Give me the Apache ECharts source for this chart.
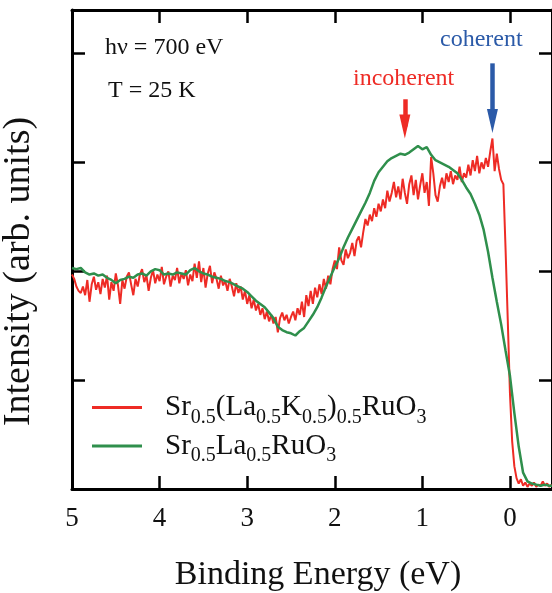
<!DOCTYPE html>
<html>
<head>
<meta charset="utf-8">
<script src="https://cdn.jsdelivr.net/npm/echarts@6/dist/echarts.min.js"></script>
<style>
  html, body { margin: 0; padding: 0; background: #fff; overflow: hidden; }
  #chart { width: 552px; height: 593px; }
</style>
</head>
<body>
<div id="chart"></div>
<script>
// binding energy (eV), intensity (arb. units)
const redData = [
  [5.000,1.97],[4.975,1.93],[4.950,1.86],[4.925,1.82],[4.900,1.80],[4.875,1.86],[4.850,1.78],[4.825,1.92],
  [4.800,1.72],[4.775,1.88],[4.750,1.95],[4.725,1.83],[4.700,1.90],[4.675,1.79],[4.650,1.93],[4.625,1.85],
  [4.600,1.96],[4.575,1.74],[4.550,1.90],[4.525,1.82],[4.500,1.98],[4.475,1.87],[4.450,1.70],[4.425,1.92],
  [4.400,1.84],[4.375,1.95],[4.350,1.99],[4.325,1.88],[4.300,1.78],[4.275,1.93],[4.250,1.86],[4.225,1.97],
  [4.200,2.02],[4.175,1.90],[4.150,1.96],[4.125,1.82],[4.100,1.94],[4.075,2.01],[4.050,1.89],[4.025,1.97],
  [4.000,1.91],[3.975,2.04],[3.950,1.88],[3.925,1.95],[3.900,2.00],[3.875,1.86],[3.850,1.96],[3.825,1.92],
  [3.800,2.03],[3.775,1.89],[3.750,1.98],[3.725,1.93],[3.700,2.01],[3.675,1.87],[3.650,1.97],[3.625,1.91],
  [3.600,2.07],[3.575,1.94],[3.550,2.09],[3.525,1.90],[3.500,2.03],[3.475,1.85],[3.450,1.98],[3.425,2.05],
  [3.400,1.89],[3.375,1.99],[3.350,1.93],[3.325,1.84],[3.300,1.96],[3.275,1.87],[3.250,1.91],[3.225,1.82],
  [3.200,1.93],[3.175,1.86],[3.150,1.77],[3.125,1.89],[3.100,1.80],[3.075,1.86],[3.050,1.74],[3.025,1.82],
  [3.000,1.70],[2.975,1.78],[2.950,1.66],[2.925,1.74],[2.900,1.64],[2.875,1.70],[2.850,1.60],[2.825,1.66],
  [2.800,1.56],[2.775,1.63],[2.750,1.54],[2.725,1.60],[2.700,1.52],[2.675,1.58],[2.650,1.44],[2.625,1.57],
  [2.600,1.62],[2.575,1.55],[2.550,1.60],[2.525,1.52],[2.500,1.58],[2.475,1.63],[2.450,1.55],[2.425,1.66],
  [2.400,1.60],[2.375,1.72],[2.350,1.58],[2.325,1.78],[2.300,1.68],[2.275,1.82],[2.250,1.70],[2.225,1.85],
  [2.200,1.76],[2.175,1.88],[2.150,1.79],[2.125,1.93],[2.100,1.84],[2.075,1.96],[2.050,1.88],[2.025,2.02],
  [2.000,2.10],[1.975,2.02],[1.950,2.22],[1.925,2.10],[1.900,2.06],[1.875,2.20],[1.850,2.12],[1.825,2.17],
  [1.800,2.26],[1.775,2.14],[1.750,2.28],[1.725,2.32],[1.700,2.22],[1.675,2.36],[1.650,2.48],[1.625,2.42],
  [1.600,2.52],[1.575,2.46],[1.550,2.58],[1.525,2.50],[1.500,2.62],[1.475,2.55],[1.450,2.66],[1.425,2.58],
  [1.400,2.74],[1.375,2.64],[1.350,2.72],[1.325,2.82],[1.300,2.68],[1.275,2.78],[1.250,2.66],[1.225,2.85],
  [1.200,2.72],[1.175,2.62],[1.150,2.80],[1.125,2.88],[1.100,2.70],[1.075,2.84],[1.050,2.66],[1.025,2.79],
  [1.000,2.90],[0.975,2.72],[0.950,2.82],[0.925,2.60],[0.900,3.05],[0.875,2.90],[0.850,2.70],[0.825,2.64],
  [0.800,2.78],[0.775,2.86],[0.750,2.76],[0.725,2.90],[0.700,2.82],[0.675,2.92],[0.650,2.80],[0.625,2.88],
  [0.600,2.84],[0.575,2.96],[0.550,2.82],[0.525,2.90],[0.500,2.86],[0.475,2.98],[0.450,2.88],[0.425,3.02],
  [0.400,2.92],[0.375,3.06],[0.350,2.90],[0.325,3.00],[0.300,2.94],[0.275,3.04],[0.250,2.96],[0.225,3.10],
  [0.200,3.22],[0.175,2.92],[0.150,3.08],[0.125,2.94],[0.100,2.84],[0.075,2.80],[0.050,2.20],[0.025,1.55],
  [0.000,0.88],[-0.025,0.44],[-0.050,0.21],[-0.075,0.10],[-0.100,0.05],[-0.125,0.09],[-0.150,0.03],[-0.175,0.06],
  [-0.200,0.02],[-0.225,0.05],[-0.250,0.03],[-0.275,0.06],[-0.300,0.02],[-0.325,0.04],[-0.350,0.03],[-0.375,0.07],
  [-0.400,0.03],[-0.425,0.05],[-0.450,0.02],[-0.475,0.04]
];

const greenData = [
  [5.00,2.03],[4.95,2.02],[4.90,2.03],[4.85,1.99],[4.80,1.97],[4.75,1.98],[4.70,1.96],[4.65,1.97],
  [4.60,1.94],[4.55,1.92],[4.50,1.89],[4.45,1.92],[4.40,1.93],[4.35,1.95],[4.30,1.94],[4.25,1.97],
  [4.20,1.98],[4.15,1.96],[4.10,2.00],[4.05,2.02],[4.00,2.01],[3.95,1.97],[3.90,1.98],[3.85,1.97],
  [3.80,1.99],[3.75,1.98],[3.70,1.97],[3.65,2.01],[3.60,2.03],[3.55,2.00],[3.50,1.98],[3.45,1.97],
  [3.40,1.95],[3.35,1.94],[3.30,1.93],[3.25,1.91],[3.20,1.90],[3.15,1.88],[3.10,1.86],[3.05,1.84],
  [3.00,1.81],[2.95,1.77],[2.90,1.73],[2.85,1.70],[2.80,1.67],[2.75,1.62],[2.70,1.57],[2.65,1.49],
  [2.60,1.46],[2.55,1.44],[2.50,1.43],[2.45,1.41],[2.40,1.45],[2.35,1.48],[2.30,1.54],[2.25,1.60],
  [2.20,1.67],[2.15,1.76],[2.10,1.86],[2.05,1.95],[2.00,2.04],[1.95,2.12],[1.90,2.22],[1.85,2.31],
  [1.80,2.39],[1.75,2.47],[1.70,2.55],[1.65,2.63],[1.60,2.72],[1.55,2.83],[1.50,2.91],[1.45,2.96],
  [1.40,3.01],[1.35,3.04],[1.30,3.06],[1.25,3.08],[1.20,3.07],[1.15,3.09],[1.10,3.12],[1.05,3.15],
  [1.00,3.12],[0.95,3.14],[0.90,3.07],[0.85,3.02],[0.80,3.00],[0.75,2.98],[0.70,2.96],[0.65,2.93],
  [0.60,2.90],[0.55,2.84],[0.50,2.77],[0.45,2.71],[0.40,2.62],[0.35,2.52],[0.30,2.38],[0.25,2.18],
  [0.20,1.94],[0.15,1.72],[0.10,1.51],[0.05,1.27],[0.00,1.04],[-0.05,0.70],[-0.10,0.39],[-0.15,0.15],
  [-0.20,0.07],[-0.25,0.05],[-0.30,0.04],[-0.35,0.03],[-0.40,0.04],[-0.45,0.03],[-0.48,0.03]
];

// arrows: [energy, from intensity, to intensity]
const incoherentArrow = [1.20, 3.58, 3.33];
const coherentArrow = [0.20, 3.91, 3.38];

const serif = "'Liberation Serif', 'DejaVu Serif', serif";
const RED = "#ee2b25";
const GREEN = "#2f8f4c";
const BLUE = "#2b5aa8";

const legendRich = {
  n: { fontSize: 29, fontFamily: serif, color: "#111", lineHeight: 40 },
  s: { fontSize: 20, fontFamily: serif, color: "#111", lineHeight: 22, verticalAlign: "bottom" }
};
const legendNames = {
  red: "{n|Sr}{s|0.5}{n|(La}{s|0.5}{n|K}{s|0.5}{n|)}{s|0.5}{n|RuO}{s|3}",
  green: "{n|Sr}{s|0.5}{n|La}{s|0.5}{n|RuO}{s|3}"
};

const chart = echarts.init(document.getElementById("chart"), null, { renderer: "canvas" });

const tickStyle = { show: true, inside: true, length: 13, lineStyle: { color: "#000", width: 2.5 } };
const lineAxis = { show: true, onZero: false, lineStyle: { color: "#000", width: 3 } };

chart.setOption({
  animation: false,
  backgroundColor: "#fff",
  grid: { left: 72, right: 0, top: 10, bottom: 104, containLabel: false, outerBoundsMode: "none" },
  legend: {
    orient: "vertical",
    left: 92,
    top: 393,
    padding: 0,
    itemGap: 4,
    itemWidth: 50,
    itemHeight: 3,
    icon: "rect",
    data: ["red", "green"],
    formatter: name => legendNames[name],
    textStyle: { rich: legendRich, padding: [0, 0, 0, 18] }
  },
  xAxis: [
    {
      type: "value",
      inverse: true,
      min: -0.48,
      max: 5,
      splitNumber: 5,
      position: "bottom",
      axisLine: lineAxis,
      axisTick: tickStyle,
      splitLine: { show: false },
      axisLabel: {
        showMinLabel: false,
        margin: 16,
        fontSize: 27,
        fontFamily: serif,
        color: "#111",
        formatter: v => (Number.isInteger(v) ? String(v) : "")
      },
      name: "Binding Energy (eV)",
      nameLocation: "middle",
      nameGap: 69,
      nameTextStyle: { fontSize: 34, fontFamily: serif, color: "#111", padding: [0, 0, 0, 12] }
    },
    {
      type: "value",
      inverse: true,
      min: -0.48,
      max: 5,
      splitNumber: 5,
      position: "top",
      axisLine: lineAxis,
      axisTick: tickStyle,
      axisLabel: { show: false },
      splitLine: { show: false }
    }
  ],
  yAxis: [
    {
      type: "value",
      min: 0,
      max: 4.4,
      interval: 1,
      position: "left",
      axisLine: lineAxis,
      axisTick: tickStyle,
      axisLabel: { show: false },
      splitLine: { show: false },
      name: "Intensity (arb. units)",
      nameLocation: "middle",
      nameGap: 34,
      nameTextStyle: { fontSize: 38, fontFamily: serif, color: "#111", padding: [0, 44, 0, 0] }
    },
    {
      type: "value",
      min: 0,
      max: 4.4,
      interval: 1,
      position: "right",
      axisLine: lineAxis,
      axisTick: tickStyle,
      axisLabel: { show: false },
      splitLine: { show: false }
    }
  ],
  graphic: [
    { type: "text", left: 105, top: 36, style: { text: "hν = 700 eV", font: "24px " + serif, fill: "#111" } },
    { type: "text", left: 108, top: 79, style: { text: "T = 25 K", font: "24px " + serif, fill: "#111" } },
    { type: "text", left: 353, top: 67, style: { text: "incoherent", font: "24px " + serif, fill: RED } },
    { type: "text", left: 440, top: 28, style: { text: "coherent", font: "24px " + serif, fill: BLUE } }
  ],
  series: [
    {
      name: "red",
      type: "line",
      data: redData,
      symbol: "none",
      color: RED,
      lineStyle: { color: RED, width: 2 },
      z: 2,
      markLine: {
        silent: true,
        symbol: ["none", "triangle"],
        symbolSize: [11, 24],
        label: { show: false },
        data: [
          [
            { coord: [incoherentArrow[0], incoherentArrow[1]] },
            { coord: [incoherentArrow[0], incoherentArrow[2]] }
          ].map(d => Object.assign(d, { lineStyle: { color: RED, width: 4.5, type: "solid" }, itemStyle: { color: RED } })),
          [
            { coord: [coherentArrow[0], coherentArrow[1]] },
            { coord: [coherentArrow[0], coherentArrow[2]] }
          ].map(d => Object.assign(d, { lineStyle: { color: BLUE, width: 4.5, type: "solid" }, itemStyle: { color: BLUE } }))
        ]
      }
    },
    {
      name: "green",
      type: "line",
      data: greenData,
      symbol: "none",
      color: GREEN,
      lineStyle: { color: GREEN, width: 2.5 },
      z: 3
    }
  ]
});
</script>
</body>
</html>
